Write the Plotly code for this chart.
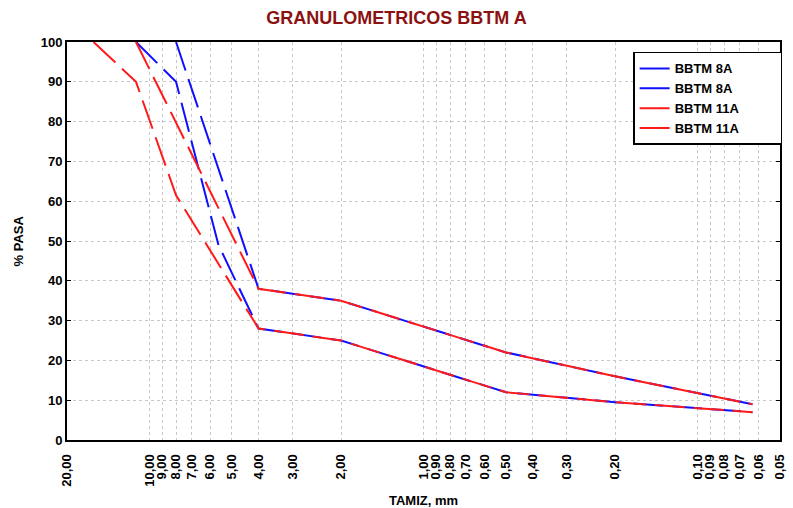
import plotly.graph_objects as go
import math

# --- data ---
sieve_8A_up = [8, 4, 2, 1, 0.5, 0.2, 0.063]
pass_8A_up = [100, 38, 35, 28.5, 22, 16, 9]
sieve_8A_lo = [11.2, 8, 5.6, 4, 2, 1, 0.5, 0.2, 0.063]
pass_8A_lo = [100, 90, 49, 28, 25, 18.5, 12, 9.5, 7]
sieve_11A_up = [11.2, 4, 2, 1, 0.5, 0.2, 0.063]
pass_11A_up = [100, 38, 35, 28.5, 22, 16, 9]
sieve_11A_lo = [16, 11.2, 8, 4, 2, 1, 0.5, 0.2, 0.063]
pass_11A_lo = [100, 90, 61.5, 28, 25, 18.5, 12, 9.5, 7]

tick_vals = [20, 10, 9, 8, 7, 6, 5, 4, 3, 2, 1, 0.9, 0.8, 0.7, 0.6, 0.5, 0.4, 0.3,
             0.2, 0.1, 0.09, 0.08, 0.07, 0.06, 0.05]
tick_text = [f"{v:.2f}".replace(".", ",") for v in tick_vals]

BLUE = "#1010ff"
RED = "#ff1a1a"
DASH = "30px,9px"
FONT = "Liberation Sans, Arial, sans-serif"
PAD = "\u00a0" * 10

fig = go.Figure()
series = [
    ("BBTM 8A", sieve_8A_up, pass_8A_up, BLUE),
    ("BBTM 8A", sieve_8A_lo, pass_8A_lo, BLUE),
    ("BBTM 11A", sieve_11A_up, pass_11A_up, RED),
    ("BBTM 11A", sieve_11A_lo, pass_11A_lo, RED),
]
for name, xs, ys, col in series:
    fig.add_trace(go.Scatter(x=xs, y=ys, name=name + PAD, mode="lines",
                             line=dict(color=col, width=2, dash=DASH)))

fig.update_layout(
    width=793, height=508,
    margin=dict(l=67, r=6, t=42, b=68),
    paper_bgcolor="white", plot_bgcolor="white",
    font=dict(family=FONT, size=12, color="black", weight="bold"),
    title=dict(text="GRANULOMETRICOS BBTM A", x=0.5, xanchor="center",
               y=1 - 18 / 508, yanchor="middle", yref="container",
               font=dict(family="Liberation Sans Narrow, Arial Narrow, Liberation Sans",
                         size=18, color="#8b1111", weight="bold")),
    showlegend=True,
    legend=dict(x=1.003, xanchor="right", y=0.975, yanchor="top",
                bordercolor="black", borderwidth=1.5, bgcolor="white",
                font=dict(family=FONT, size=13, weight="bold"),
                tracegroupgap=0, itemwidth=30),
    xaxis=dict(type="log", range=[math.log10(20), math.log10(0.05)],
               tickmode="array", tickvals=tick_vals, ticktext=tick_text,
               tickangle=-90, tickfont=dict(family=FONT, size=13, weight="bold"),
               ticklabelstandoff=7,
               showgrid=True, gridcolor="#c8c8c8", griddash="dot", gridwidth=1,
               showline=True, linecolor="black", linewidth=2, mirror=True,
               ticks="", zeroline=False),
    yaxis=dict(range=[0, 100], tickmode="array", tickvals=list(range(0, 101, 10)),
               tickfont=dict(family=FONT, size=13, weight="bold"),
               showgrid=True, gridcolor="#c8c8c8", griddash="dot", gridwidth=1,
               showline=True, linecolor="black", linewidth=2, mirror="ticks",
               ticks="inside", ticklen=4, tickcolor="black", zeroline=False),
    annotations=[
        dict(text="TAMIZ, mm", xref="paper", yref="paper", x=0.5, y=(440 - 500) / 398,
             xanchor="center", yanchor="middle", showarrow=False,
             font=dict(family=FONT, size=13, weight="bold")),
        dict(text="% PASA", xref="paper", yref="paper", x=(18 - 67) / 720, y=0.5,
             xanchor="center", yanchor="middle", textangle=-90, showarrow=False,
             font=dict(family=FONT, size=13, weight="bold")),
    ],
)

fig.write_html("out.html")
